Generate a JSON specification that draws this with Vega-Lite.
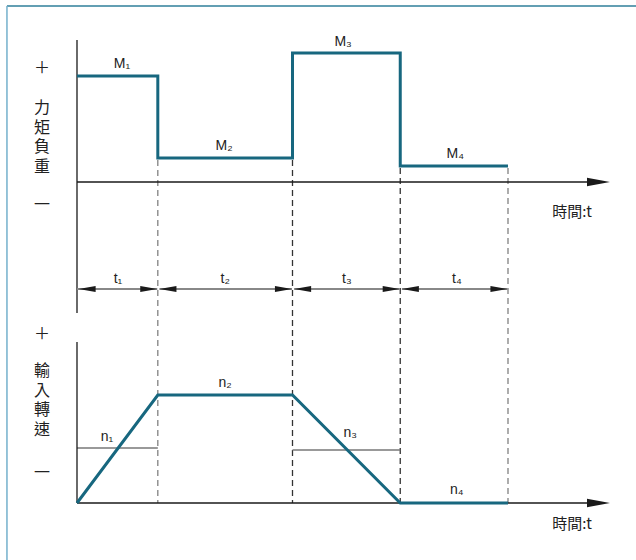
{
  "$schema": "https://vega.github.io/schema/vega-lite/v6.json",
  "width": 636,
  "height": 560,
  "padding": 0,
  "autosize": {"type": "none"},
  "background": "white",
  "config": {"view": {"stroke": null}},
  "datasets": {
    "steps": [
      {"panel": "torque", "ord": 1, "t": 0, "v": 42.7},
      {"panel": "torque", "ord": 2, "t": 1.5, "v": 42.7},
      {"panel": "torque", "ord": 3, "t": 1.5, "v": 34.5},
      {"panel": "torque", "ord": 4, "t": 4, "v": 34.5},
      {"panel": "torque", "ord": 5, "t": 4, "v": 45.0},
      {"panel": "torque", "ord": 6, "t": 6, "v": 45.0},
      {"panel": "torque", "ord": 7, "t": 6, "v": 33.7},
      {"panel": "torque", "ord": 8, "t": 8, "v": 33.7},
      {"panel": "speed", "ord": 1, "t": 0, "v": 0},
      {"panel": "speed", "ord": 2, "t": 1.5, "v": 10.8},
      {"panel": "speed", "ord": 3, "t": 4, "v": 10.8},
      {"panel": "speed", "ord": 4, "t": 6, "v": 0},
      {"panel": "speed", "ord": 5, "t": 8, "v": 0}
    ],
    "refs": [
      {"t": 0, "t2": 1.5, "v": 5.5},
      {"t": 4, "t2": 6, "v": 5.3}
    ],
    "dashes": [
      {"t": 1.5, "v": 34.3, "v2": 0, "tone": "light"},
      {"t": 4, "v": 34.3, "v2": 0, "tone": "dark"},
      {"t": 6, "v": 33.5, "v2": 0, "tone": "dark"},
      {"t": 8, "v": 33.5, "v2": 0, "tone": "light"}
    ],
    "spans": [
      {"t": 0, "t2": 1.49, "v": 21.4},
      {"t": 1.53, "t2": 3.99, "v": 21.4},
      {"t": 4.03, "t2": 5.99, "v": 21.4},
      {"t": 6.03, "t2": 7.99, "v": 21.4}
    ],
    "headsR": [
      {"t": 1.49, "v": 21.4},
      {"t": 3.99, "v": 21.4},
      {"t": 5.99, "v": 21.4},
      {"t": 7.99, "v": 21.4}
    ],
    "headsL": [
      {"t": 0.03, "v": 21.4},
      {"t": 1.53, "v": 21.4},
      {"t": 4.03, "v": 21.4},
      {"t": 6.03, "v": 21.4}
    ],
    "vaxes": [
      {"t": 0, "v": 46.3, "v2": 19.0},
      {"t": 0, "v": 16.1, "v2": 0}
    ],
    "haxes": [
      {"t": 0, "t2": 9.5, "v": 32.1},
      {"t": 0, "t2": 9.5, "v": 0}
    ],
    "axisHeads": [
      {"t": 9.893, "v": 32.1},
      {"t": 9.893, "v": 0}
    ],
    "borderTop": [{"t": -1.30, "t2": 10.3759, "v": 49.7}],
    "borderLeft": [{"t": -1.30, "v": 49.7, "v2": -5.7}],
    "labels": [
      {"t": 0.835, "v": 43.9, "text": "M₁"},
      {"t": 2.73, "v": 35.7, "text": "M₂"},
      {"t": 4.94, "v": 46.1, "text": "M₃"},
      {"t": 7.02, "v": 34.9, "text": "M₄"},
      {"t": 0.76, "v": 22.4, "text": "t₁"},
      {"t": 2.75, "v": 22.4, "text": "t₂"},
      {"t": 5.01, "v": 22.4, "text": "t₃"},
      {"t": 7.05, "v": 22.4, "text": "t₄"},
      {"t": 0.557, "v": 6.6, "text": "n₁"},
      {"t": 2.75, "v": 12.0, "text": "n₂"},
      {"t": 5.07, "v": 7.0, "text": "n₃"},
      {"t": 7.05, "v": 1.3, "text": "n₄"}
    ],
    "cjk": [
      {"t": -0.65, "v": 43.5, "text": "＋"},
      {"t": -0.65, "v": 39.5, "text": ["力", "矩", "負", "重"]},
      {"t": -0.65, "v": 29.8, "text": "一"},
      {"t": -0.65, "v": 16.9, "text": "＋"},
      {"t": -0.65, "v": 13.2, "text": ["輸", "入", "轉", "速"]},
      {"t": -0.65, "v": 3.0, "text": "一"}
    ],
    "timeLabels": [
      {"t": 9.19, "v": 29.1, "text": "時間:t"},
      {"t": 9.19, "v": -2.1, "text": "時間:t"}
    ]
  },
  "layer": [
    {
      "data": {"name": "borderTop"},
      "mark": {"type": "rule", "color": "#2f7f9a", "strokeWidth": 1.5},
      "encoding": {
        "x": {"field": "t", "type": "quantitative", "scale": {"domain": [-1.4292, 10.3759], "nice": false, "zero": false}, "axis": null},
        "x2": {"field": "t2"},
        "y": {"field": "v", "type": "quantitative", "scale": {"domain": [-5.7, 50.3], "nice": false, "zero": false}, "axis": null}
      }
    },
    {
      "data": {"name": "borderLeft"},
      "mark": {"type": "rule", "color": "#74b0cc", "strokeWidth": 1.5},
      "encoding": {
        "x": {"field": "t", "type": "quantitative", "axis": null},
        "y": {"field": "v", "type": "quantitative", "axis": null},
        "y2": {"field": "v2"}
      }
    },
    {
      "data": {"name": "dashes"},
      "mark": {"type": "rule", "strokeWidth": 1.3, "strokeDash": [6, 4]},
      "encoding": {
        "x": {"field": "t", "type": "quantitative", "axis": null},
        "y": {"field": "v", "type": "quantitative", "axis": null},
        "y2": {"field": "v2"},
        "color": {"field": "tone", "type": "nominal", "scale": {"domain": ["dark", "light"], "range": ["#333333", "#808080"]}, "legend": null}
      }
    },
    {
      "data": {"name": "refs"},
      "mark": {"type": "rule", "color": "#777777", "strokeWidth": 1.3},
      "encoding": {
        "x": {"field": "t", "type": "quantitative", "axis": null},
        "x2": {"field": "t2"},
        "y": {"field": "v", "type": "quantitative", "axis": null}
      }
    },
    {
      "data": {"name": "vaxes"},
      "mark": {"type": "rule", "color": "#1a1a1a", "strokeWidth": 1.3},
      "encoding": {
        "x": {"field": "t", "type": "quantitative", "axis": null},
        "y": {"field": "v", "type": "quantitative", "axis": null},
        "y2": {"field": "v2"}
      }
    },
    {
      "data": {"name": "haxes"},
      "mark": {"type": "rule", "color": "#1a1a1a", "strokeWidth": 1.3},
      "encoding": {
        "x": {"field": "t", "type": "quantitative", "axis": null},
        "x2": {"field": "t2"},
        "y": {"field": "v", "type": "quantitative", "axis": null}
      }
    },
    {
      "data": {"name": "axisHeads"},
      "mark": {"type": "point", "filled": true, "color": "#1a1a1a", "opacity": 1, "size": 529, "shape": "M0,0 L-2,-0.36 L-2,0.36 Z"},
      "encoding": {
        "x": {"field": "t", "type": "quantitative", "axis": null},
        "y": {"field": "v", "type": "quantitative", "axis": null}
      }
    },
    {
      "data": {"name": "spans"},
      "mark": {"type": "rule", "color": "#888888", "strokeWidth": 2},
      "encoding": {
        "x": {"field": "t", "type": "quantitative", "axis": null},
        "x2": {"field": "t2"},
        "y": {"field": "v", "type": "quantitative", "axis": null}
      }
    },
    {
      "data": {"name": "headsR"},
      "mark": {"type": "point", "filled": true, "color": "#1a1a1a", "opacity": 1, "size": 289, "shape": "M0,0 L-2,-0.34 L-2,0.34 Z"},
      "encoding": {
        "x": {"field": "t", "type": "quantitative", "axis": null},
        "y": {"field": "v", "type": "quantitative", "axis": null}
      }
    },
    {
      "data": {"name": "headsL"},
      "mark": {"type": "point", "filled": true, "color": "#1a1a1a", "opacity": 1, "size": 289, "shape": "M0,0 L2,-0.34 L2,0.34 Z"},
      "encoding": {
        "x": {"field": "t", "type": "quantitative", "axis": null},
        "y": {"field": "v", "type": "quantitative", "axis": null}
      }
    },
    {
      "data": {"name": "steps"},
      "mark": {"type": "line", "color": "#17677f", "strokeWidth": 3, "strokeJoin": "miter", "strokeCap": "butt"},
      "encoding": {
        "x": {"field": "t", "type": "quantitative", "axis": null},
        "y": {"field": "v", "type": "quantitative", "axis": null},
        "detail": {"field": "panel", "type": "nominal"},
        "order": {"field": "ord", "type": "quantitative"}
      }
    },
    {
      "data": {"name": "labels"},
      "mark": {"type": "text", "font": "Liberation Sans", "fontSize": 14, "color": "#222222", "baseline": "middle", "align": "center"},
      "encoding": {
        "x": {"field": "t", "type": "quantitative", "axis": null},
        "y": {"field": "v", "type": "quantitative", "axis": null},
        "text": {"field": "text"}
      }
    },
    {
      "data": {"name": "cjk"},
      "mark": {"type": "text", "font": "Noto Sans CJK TC", "fontSize": 16, "lineHeight": 19.5, "color": "#222222", "baseline": "middle", "align": "center"},
      "encoding": {
        "x": {"field": "t", "type": "quantitative", "axis": null},
        "y": {"field": "v", "type": "quantitative", "axis": null},
        "text": {"field": "text"}
      }
    },
    {
      "data": {"name": "timeLabels"},
      "mark": {"type": "text", "font": "Noto Sans CJK TC", "fontSize": 15, "color": "#222222", "baseline": "middle", "align": "center"},
      "encoding": {
        "x": {"field": "t", "type": "quantitative", "axis": null},
        "y": {"field": "v", "type": "quantitative", "axis": null},
        "text": {"field": "text"}
      }
    }
  ]
}
